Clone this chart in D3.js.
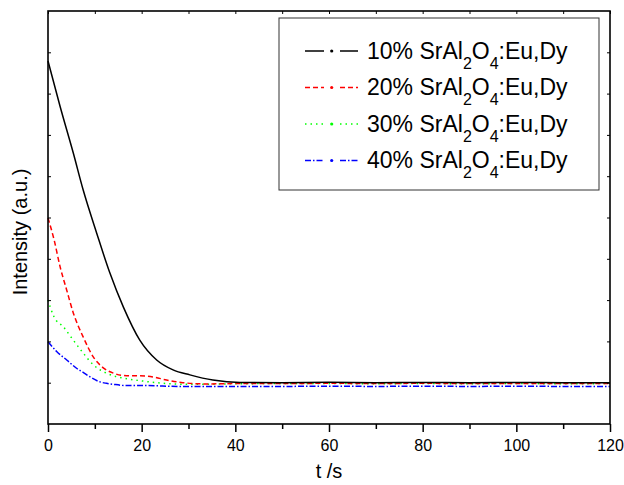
<!DOCTYPE html>
<html><head><meta charset="utf-8">
<script src="https://cdn.jsdelivr.net/npm/d3@7"></script>
<style>body{margin:0;background:#fff;}svg{display:block;font-family:"Liberation Sans",Arial,sans-serif;}</style>
</head><body><svg id="c" width="624" height="485"></svg>
<script>
// Data (y in arbitrary units, 0..10)
const t10 = [0,2.6,5.4,7.5,10.4,13.2,16.1,19.6,23.2,26.7,30.3,35.2,41,50,60,70,80,90,100,110,120];
const v10 = [8.79,7.68,6.56,5.67,4.62,3.66,2.83,2.03,1.55,1.31,1.19,1.065,1.005,1.0,1.01,1.0,1.005,1.0,1.005,1.0,1.0];
const t20 = [0,1.3,2.6,4,5.4,7.5,9.7,11.8,14,16.8,19.6,22.4,25.3,28.8,33.9,41,50,60,70,80,90,100,110,120];
const v20 = [4.99,4.46,3.80,3.24,2.69,2.11,1.62,1.36,1.23,1.17,1.17,1.14,1.065,1.0,0.97,0.98,0.98,0.985,0.98,0.985,0.98,0.98,0.98,0.98];
const t30 = [0,1.3,3.3,5.4,7.5,9.7,12.5,16.1,19.6,23.2,26.8,31,41,50,60,70,80,90,100,110,120];
const v30 = [3.0,2.59,2.35,2.03,1.72,1.43,1.23,1.11,1.05,1.0,0.97,0.96,0.975,0.98,0.98,0.975,0.98,0.975,0.98,0.975,0.98];
const t40 = [0,1.9,4,6.1,7.5,8.9,11.1,12.5,14,16.8,21,28,35,50,60,70,80,90,100,110,120];
const v40 = [1.99,1.75,1.55,1.35,1.25,1.145,1.02,0.985,0.96,0.93,0.93,0.91,0.91,0.91,0.915,0.91,0.915,0.91,0.915,0.91,0.91];
const seriesNames = ["10%","20%","30%","40%"];
const xTicks = [0,20,40,60,80,100,120];
const xMinor = [10,30,50,70,90,110];
const yTicks = [1,2,3,4,5,6,7,8,9];

const colors = ["#000000","#ff0000","#00ff00","#0000ff"];
const dashes = [null,"5,3","1.5,4","6,2,1.5,2"];
const series = [[t10,v10],[t20,v20],[t30,v30],[t40,v40]].map((s,i)=>({
  name: seriesNames[i], color: colors[i], dash: dashes[i],
  pts: s[0].map((t,j)=>[t,s[1][j]])
}));

const L=48,R=610,T=11,B=424;
const svg=d3.select("#c");
const x=d3.scaleLinear().domain([0,120]).range([L,R]);
const y=d3.scaleLinear().domain([0,10]).range([B,T]);

const line=d3.line().x(d=>x(d[0])).y(d=>y(d[1])).curve(d3.curveMonotoneX);
series.slice().reverse().forEach(s=>{
  svg.append("path").attr("d",line(s.pts)).attr("fill","none")
    .attr("stroke",s.color).attr("stroke-width",1.5)
    .attr("stroke-dasharray",s.dash);
});

// frame
svg.append("rect").attr("x",L).attr("y",T).attr("width",R-L).attr("height",B-T)
  .attr("fill","none").attr("stroke","#000").attr("stroke-width",1.6);

// bottom axis (outward ticks)
const gb=svg.append("g").attr("transform",`translate(0,${B})`)
  .call(d3.axisBottom(x).tickValues(xTicks).tickSize(8).tickPadding(8).tickFormat(d3.format("d")));
gb.select(".domain").remove();
gb.selectAll("line").attr("stroke-width",1.5);
gb.selectAll("text").attr("font-size",16).attr("font-family","Liberation Sans, Arial, sans-serif").attr("fill","#000");
svg.append("g").attr("transform",`translate(0,${B})`)
  .call(d3.axisBottom(x).tickValues(xMinor).tickSize(5).tickFormat(""))
  .call(g=>{g.select(".domain").remove();g.selectAll("line").attr("stroke-width",1.5);});
// top axis (inward ticks)
svg.append("g").attr("transform",`translate(0,${T})`)
  .call(d3.axisBottom(x).tickValues(xTicks.concat(xMinor)).tickSize(3).tickFormat(""))
  .call(g=>{g.select(".domain").remove();g.selectAll("line").attr("stroke-width",1);});
// left & right inward ticks
svg.append("g").attr("transform",`translate(${L},0)`)
  .call(d3.axisRight(y).tickValues(yTicks).tickSize(3).tickFormat(""))
  .call(g=>{g.select(".domain").remove();g.selectAll("line").attr("stroke-width",1);});
svg.append("g").attr("transform",`translate(${R},0)`)
  .call(d3.axisLeft(y).tickValues(yTicks).tickSize(3).tickFormat(""))
  .call(g=>{g.select(".domain").remove();g.selectAll("line").attr("stroke-width",1);});

// axis titles
svg.append("text").attr("x",(L+R)/2).attr("y",478).attr("text-anchor","middle")
  .attr("font-size",20).text("t /s");
svg.append("text").attr("transform","translate(27,232) rotate(-90)").attr("text-anchor","middle")
  .attr("font-size",20).text("Intensity (a.u.)");

// legend
const lg=svg.append("g");
lg.append("rect").attr("x",279).attr("y",18).attr("width",320).attr("height",172)
  .attr("fill","#fff").attr("stroke","#333").attr("stroke-width",1);
const baseY=[58.5,95,131.5,168];
series.forEach((s,i)=>{
  const yy=baseY[i]-7.5;
  lg.append("line").attr("x1",305).attr("x2",324).attr("y1",yy).attr("y2",yy)
    .attr("stroke",s.color).attr("stroke-width",1.5).attr("stroke-dasharray",s.dash);
  lg.append("line").attr("x1",340).attr("x2",358).attr("y1",yy).attr("y2",yy)
    .attr("stroke",s.color).attr("stroke-width",1.5).attr("stroke-dasharray",s.dash);
  lg.append("circle").attr("cx",331.7).attr("cy",yy).attr("r",1.6).attr("fill",s.color);
  const tx=lg.append("text").attr("x",367).attr("y",baseY[i]).attr("font-size",23).attr("fill","#000");
  tx.append("tspan").text(s.name+" SrAl");
  tx.append("tspan").attr("font-size",16).attr("dy",10).text("2");
  tx.append("tspan").attr("dy",-10).text("O");
  tx.append("tspan").attr("font-size",16).attr("dy",10).text("4");
  tx.append("tspan").attr("dy",-10).text(":Eu,Dy");
});
</script></body></html>
